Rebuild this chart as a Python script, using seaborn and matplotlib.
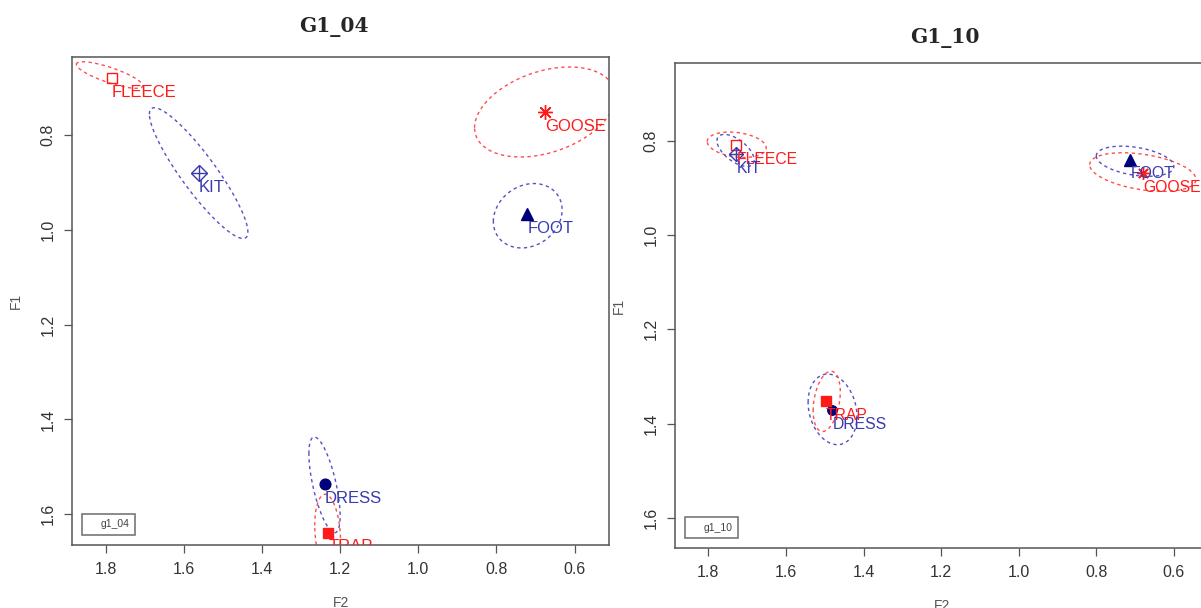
"""
G1_04 / G1_10 母音空間圖 (F2 x F1)，含各詞的離散橢圓
"""
import numpy as np
import matplotlib
matplotlib.use("Agg")
import matplotlib.pyplot as plt
import seaborn as sns
from matplotlib.lines import Line2D

# 詞彙
words = ["FLEECE", "KIT", "GOOSE", "FOOT", "DRESS", "TRAP"]

# G1_04: 各詞平均值 (F2, F1)
g1_04_f2 = [1.785, 1.562, 0.676, 0.722, 1.240, 1.230]
g1_04_f1 = [0.680, 0.880, 0.752, 0.967, 1.537, 1.639]
# G1_04: 橢圓中心、半徑、相關
g1_04_ell_f2 = [1.790, 1.562, 0.676, 0.720, 1.240, 1.232]
g1_04_ell_f1 = [0.673, 0.880, 0.751, 0.970, 1.538, 1.640]
g1_04_sd_f2 = [0.085, 0.126, 0.180, 0.088, 0.040, 0.033]
g1_04_sd_f1 = [0.028, 0.138, 0.095, 0.068, 0.101, 0.082]
g1_04_rho = [-0.80, -0.90, 0.35, 0.18, -0.65, -0.20]

# G1_10: 各詞平均值 (F2, F1)
g1_10_f2 = [1.729, 1.729, 0.680, 0.713, 1.481, 1.498]
g1_10_f1 = [0.809, 0.828, 0.869, 0.840, 1.372, 1.353]
# G1_10: 橢圓中心、半徑、相關
g1_10_ell_f2 = [1.727, 1.730, 0.680, 0.700, 1.480, 1.495]
g1_10_ell_f1 = [0.808, 0.820, 0.866, 0.843, 1.370, 1.353]
g1_10_sd_f2 = [0.076, 0.048, 0.137, 0.100, 0.063, 0.035]
g1_10_sd_f1 = [0.027, 0.034, 0.041, 0.032, 0.075, 0.064]
g1_10_rho = [-0.25, -0.60, -0.38, -0.35, -0.20, 0.31]

x_ticks = [1.8, 1.6, 1.4, 1.2, 1.0, 0.8, 0.6]
y_ticks = [0.8, 1.0, 1.2, 1.4, 1.6]

# 樣式
RED = "#ff1a1a"
BLUE = "#3a3aae"
NAVY = "#00007a"
ELL_RED = "#ff4d4d"
ELL_BLUE = "#5252c4"
styles = {
    "FLEECE": dict(marker="s", fill=False, color=RED, ms=7.7, ell=ELL_RED, txt=RED),
    "KIT": dict(marker="D", fill=False, color=BLUE, ms=7.8, ell=ELL_BLUE, txt=BLUE),
    "GOOSE": dict(marker=(8, 2, 0), fill=False, color=RED, ms=10.5, ell=ELL_RED, txt=RED),
    "FOOT": dict(marker="^", fill=True, color=NAVY, ms=9.2, ell=ELL_BLUE, txt=BLUE),
    "DRESS": dict(marker="o", fill=True, color=NAVY, ms=7.7, ell=ELL_BLUE, txt=BLUE),
    "TRAP": dict(marker="s", fill=True, color=RED, ms=7.7, ell=ELL_RED, txt=RED),
}

sns.set_style("white")
plt.rcParams["font.family"] = ["Liberation Sans", "DejaVu Sans"]


def draw_panel(ax, f2, f1, ell_f2, ell_f1, sd_f2, sd_f1, rho, tag, scale, fs):
    t = np.linspace(0, 2 * np.pi, 241)
    for i, w in enumerate(words):
        st = styles[w]
        # 橢圓
        d = np.arccos(rho[i])
        ex = ell_f2[i] + sd_f2[i] * np.cos(t)
        ey = ell_f1[i] + sd_f1[i] * np.cos(t + d)
        sns.lineplot(x=ex, y=ey, sort=False, estimator=None, ax=ax,
                     color=st["ell"], linewidth=1.0, linestyle=(0, (2.4, 2.4)))
        # 點
        ax.plot(f2[i], f1[i], marker=st["marker"], ms=st["ms"] * scale,
                color=st["color"], mfc=st["color"] if st["fill"] else "none",
                mew=1.0, linestyle="none", zorder=4)
        if w == "KIT":
            ax.plot(f2[i], f1[i], marker="+", ms=st["ms"] * 1.41 * scale,
                    color=st["color"], mew=1.0, linestyle="none", zorder=4)
        ax.annotate(w, (f2[i], f1[i]), xytext=(0.3, -13.4),
                    textcoords="offset points", ha="left", va="baseline",
                    color=st["txt"], fontsize=fs, zorder=5, clip_on=True)

    ax.set_xlim(1.885, 0.512)
    ax.set_ylim(1.665, 0.635)
    ax.set_xticks(x_ticks)
    ax.set_yticks(y_ticks)
    ax.set_xticklabels([f"{v:.1f}" for v in x_ticks])
    ax.set_yticklabels([f"{v:.1f}" for v in y_ticks], rotation=90, va="center")
    ax.tick_params(direction="out", length=5.5, width=0.9, color="#555",
                   labelsize=11.5, labelcolor="#333", pad=6.5,
                   bottom=True, left=True)
    for sp in ax.spines.values():
        sp.set_visible(True)
        sp.set_color("#555")
        sp.set_linewidth(1.1)
    ax.set_xlabel("F2", fontsize=10, color="#555", labelpad=14)
    ax.set_ylabel("F1", fontsize=10, color="#555", labelpad=13)

    leg = ax.legend(handles=[Line2D([], [], linestyle="none")], labels=[tag],
                    loc="lower left", fontsize=7.5, frameon=True, fancybox=False,
                    borderaxespad=0.95, borderpad=0.55, handlelength=0.9,
                    handletextpad=0.3, labelcolor="#444")
    leg.get_frame().set_edgecolor("#555")
    leg.get_frame().set_linewidth(1.2)


fig = plt.figure(figsize=(12.01, 6.08), dpi=100)

ax1 = fig.add_axes([0.0603, 0.1036, 0.4468, 0.8026])
draw_panel(ax1, g1_04_f2, g1_04_f1, g1_04_ell_f2, g1_04_ell_f1,
           g1_04_sd_f2, g1_04_sd_f1, g1_04_rho, "g1_04", 1.0, 12)

ax2 = fig.add_axes([0.5624, 0.0982, 0.4434, 0.7977])
draw_panel(ax2, g1_10_f2, g1_10_f1, g1_10_ell_f2, g1_10_ell_f1,
           g1_10_sd_f2, g1_10_sd_f1, g1_10_rho, "g1_10", 0.88, 11.3)

fig.text(0.278, 0.9556, "G1_04", ha="center", va="center",
         family="DejaVu Serif", fontweight="bold", fontsize=14.5)
fig.text(0.7865, 0.937, "G1_10", ha="center", va="center",
         family="DejaVu Serif", fontweight="bold", fontsize=14.5)

fig.savefig("out.png", dpi=100)
